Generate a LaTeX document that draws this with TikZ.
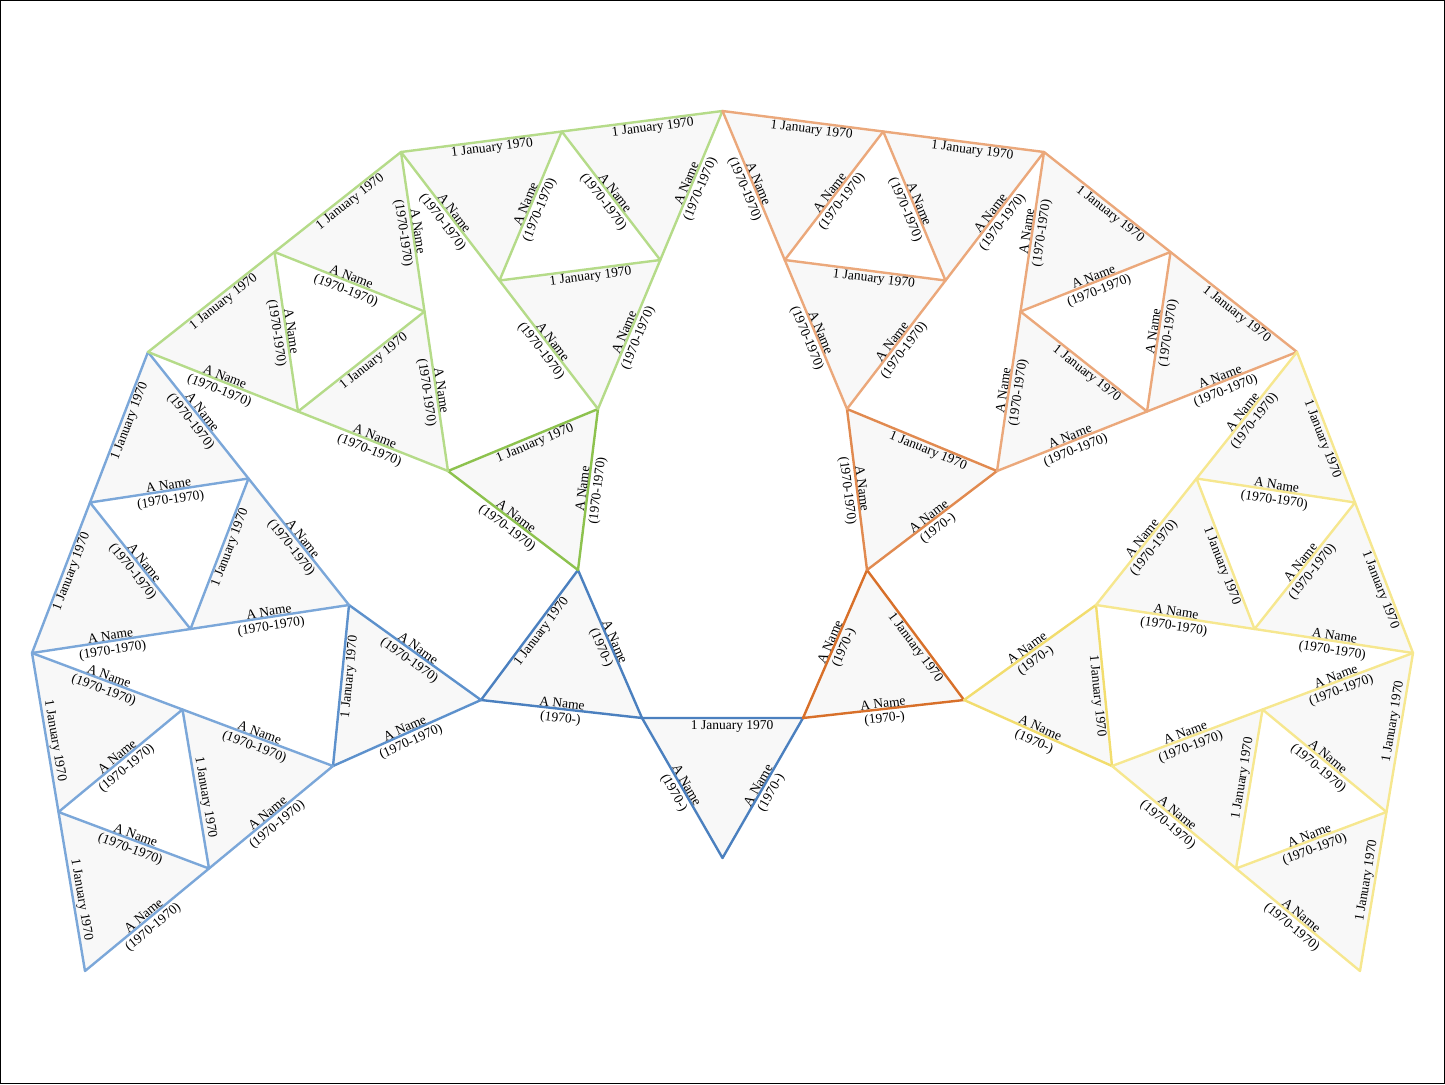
\documentclass[tikz,border=0pt]{standalone}
\usepackage{fontspec}
\setmainfont{Liberation Serif}
\usetikzlibrary{calc}
\definecolor{blueA}{HTML}{4B80BF}
\definecolor{blueB}{HTML}{5D91CC}
\definecolor{blueC}{HTML}{7BA7D9}
\definecolor{greenB}{HTML}{8DC24E}
\definecolor{greenC}{HTML}{B5DB89}
\definecolor{orangeA}{HTML}{D8702A}
\definecolor{orangeB}{HTML}{E18A50}
\definecolor{orangeC}{HTML}{EBA87B}
\definecolor{yellowB}{HTML}{F2DD6E}
\definecolor{yellowC}{HTML}{F6E78F}
\definecolor{shadecol}{HTML}{F8F8F8}
\pgfdeclarelayer{bglayer}
\pgfdeclarelayer{midlayer}
\pgfsetlayers{bglayer,midlayer,main}
\newdimen\ordxa
\newdimen\ordxb
\newcount\lblcount
\newcommand\labelfont{\fontsize{13.5}{14.5}\selectfont}
\newcommand\dateoff{8pt}
\newcommand\nameoff{3pt}
\newcommand\datepos{0.56}
\newcommand\orderpts[2]{%
  \pgfextractx{\ordxa}{\pgfpointanchor{#1}{center}}%
  \pgfextractx{\ordxb}{\pgfpointanchor{#2}{center}}%
  \ifdim\ordxa<\ordxb\relax\def\ptA{#1}\def\ptB{#2}\else\def\ptA{#2}\def\ptB{#1}\fi}
\newcommand\datel[3]{%
  \orderpts{#1}{#2}%
  \coordinate (tmpm) at ($(#1)!0.5!(#2)$);%
  \coordinate (tmps) at ($(tmpm)!\dateoff!(#3)$);%
  \global\advance\lblcount by 1\relax
  \path ($(\ptA)+(tmps)-(tmpm)$) -- ($(\ptB)+(tmps)-(tmpm)$)
    node[datelbl,pos=\datepos] (lbl\the\lblcount) {1 January 1970};%
}
\newcommand\namel[3]{%
  \orderpts{#1}{#2}%
  \global\advance\lblcount by 1\relax
  \path ($(\ptA)!\nameoff!-90:(\ptB)$) -- ($(\ptB)!\nameoff!90:(\ptA)$)
    node[namelbl,midway] (lbl\the\lblcount) {A Name\\#3};%
}
\newcommand\smalltri[4]{%
  \begin{pgfonlayer}{bglayer}\fill[trifill] (#1) -- (#2) -- (#3) -- cycle;\end{pgfonlayer}%
  \begin{pgfonlayer}{midlayer}\draw[tri=#4] (#1) -- (#2) -- (#3) -- cycle;\end{pgfonlayer}%
}
\newcommand\bigtri[4]{% apex P, outer Q, outer R, colour
  \coordinate (#1#2) at ($(#1)!0.5!(#2)$);%
  \coordinate (#2#3) at ($(#2)!0.5!(#3)$);%
  \coordinate (#3#1) at ($(#3)!0.5!(#1)$);%
  \begin{pgfonlayer}{bglayer}%
    \fill[trifill] (#2) -- (#2#3) -- (#1#2) -- cycle;%
    \fill[trifill] (#2#3) -- (#3) -- (#3#1) -- cycle;%
    \fill[trifill] (#1#2) -- (#3#1) -- (#1) -- cycle;%
  \end{pgfonlayer}%
  \begin{pgfonlayer}{midlayer}%
    \draw[tri=#4] (#1) -- (#2) -- (#3) -- cycle;%
    \draw[tri=#4] (#1#2) -- (#2#3) -- (#3#1) -- cycle;%
  \end{pgfonlayer}%
  \datel{#2}{#2#3}{#1#2}%
  \datel{#2#3}{#3}{#3#1}%
  \datel{#1#2}{#3#1}{#1}%
  \namel{#1}{#1#2}{(1970-1970)}%
  \namel{#1#2}{#2}{(1970-1970)}%
  \namel{#1}{#3#1}{(1970-1970)}%
  \namel{#3#1}{#3}{(1970-1970)}%
  \namel{#1#2}{#2#3}{(1970-1970)}%
  \namel{#2#3}{#3#1}{(1970-1970)}%
}
\begin{document}
\begin{tikzpicture}[x=1pt,y=-1pt,
  trifill/.style={fill=shadecol},
  tri/.style={draw=#1,line width=2.4pt,line join=round,line cap=round},
  datelbl/.style={sloped,inner sep=0pt,font=\labelfont},
  namelbl/.style={sloped,inner sep=0pt,align=center,font=\labelfont}]
\useasboundingbox (0,0) rectangle (1445,1084);
\draw[black,line width=1pt] (0.5,0.5) rectangle (1444.5,1083.5);
% vertices
\coordinate (A) at (642,718);
\coordinate (B) at (803,718);
\coordinate (C) at (722.5,858);
\coordinate (D) at (481,700);
\coordinate (I) at (964,700);
\coordinate (E) at (578,570);
\coordinate (H) at (867,570);
\coordinate (F) at (448,471);
\coordinate (K) at (997,471);
\coordinate (G) at (598,409);
\coordinate (J) at (847,409);
\coordinate (N) at (349,605);
\coordinate (L) at (1096,605);
\coordinate (O) at (333,766);
\coordinate (M) at (1112,766);
\coordinate (U) at (148,352);
\coordinate (Q) at (1297,352);
\coordinate (V) at (32,653);
\coordinate (R) at (1413,653);
\coordinate (W) at (85,971);
\coordinate (S) at (1360,971);
\coordinate (X) at (401,152);
\coordinate (Z) at (1044,152);
\coordinate (Y) at (722.5,111);
% central triangle
\smalltri{A}{B}{C}{blueA}
\datel{A}{B}{C}
\namel{A}{C}{(1970-)}
\namel{B}{C}{(1970-)}
% first ring
\smalltri{A}{D}{E}{blueA}
\datel{D}{E}{A}
\namel{D}{A}{(1970-)}
\namel{E}{A}{(1970-)}
\smalltri{B}{H}{I}{orangeA}
\datel{H}{I}{B}
\namel{B}{H}{(1970-)}
\namel{B}{I}{(1970-)}
% second ring
\smalltri{E}{F}{G}{greenB}
\datel{F}{G}{E}
\namel{F}{E}{(1970-1970)}
\namel{G}{E}{(1970-1970)}
\smalltri{H}{J}{K}{orangeB}
\datel{J}{K}{H}
\namel{J}{H}{(1970-1970)}
\namel{K}{H}{(1970-)}
\smalltri{D}{N}{O}{blueB}
\datel{N}{O}{D}
\namel{D}{N}{(1970-1970)}
\namel{D}{O}{(1970-1970)}
\smalltri{I}{L}{M}{yellowB}
\datel{L}{M}{I}
\namel{I}{L}{(1970-)}
\namel{I}{M}{(1970-)}
% outer subdivided triangles
\bigtri{N}{U}{V}{blueC}
\bigtri{O}{V}{W}{blueC}
\bigtri{F}{U}{X}{greenC}
\bigtri{G}{X}{Y}{greenC}
\bigtri{J}{Y}{Z}{orangeC}
\bigtri{K}{Z}{Q}{orangeC}
\bigtri{L}{Q}{R}{yellowC}
\bigtri{M}{R}{S}{yellowC}
\end{tikzpicture}
\end{document}
